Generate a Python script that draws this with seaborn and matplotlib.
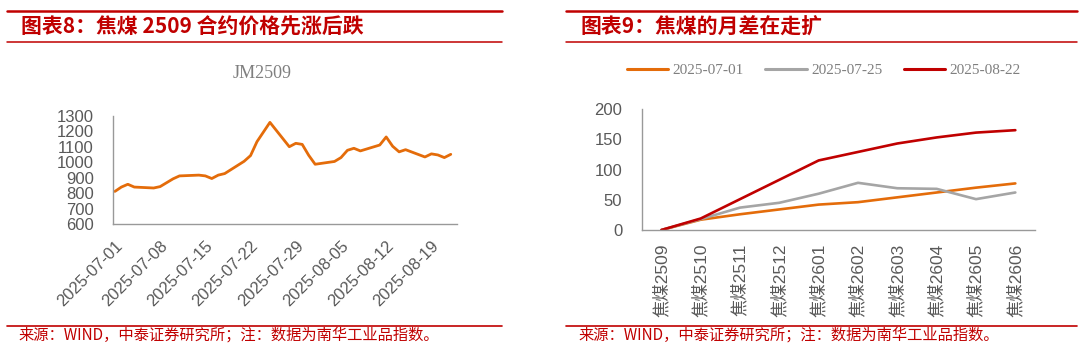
"""焦煤 2509 price path and the month spread curve, two panels side by side."""

import pandas as pd
import matplotlib.pyplot as plt
import matplotlib.dates as mdates
from matplotlib.lines import Line2D
from matplotlib.ticker import FixedLocator, NullFormatter
import seaborn as sns

# =============================================================================
# DATA
# =============================================================================

TRADE_DATES = [
    "2025-07-01", "2025-07-02", "2025-07-03", "2025-07-04",
    "2025-07-07", "2025-07-08", "2025-07-09", "2025-07-10", "2025-07-11",
    "2025-07-14", "2025-07-15", "2025-07-16", "2025-07-17", "2025-07-18",
    "2025-07-21", "2025-07-22", "2025-07-23", "2025-07-24", "2025-07-25",
    "2025-07-28", "2025-07-29", "2025-07-30", "2025-07-31", "2025-08-01",
    "2025-08-04", "2025-08-05", "2025-08-06", "2025-08-07", "2025-08-08",
    "2025-08-11", "2025-08-12", "2025-08-13", "2025-08-14", "2025-08-15",
    "2025-08-18", "2025-08-19", "2025-08-20", "2025-08-21", "2025-08-22",
]
JM2509_PRICE = [
    812, 840, 858, 840,
    834, 843, 868, 893, 912,
    917, 912, 895, 917, 927,
    1006, 1043, 1133, 1195, 1257,
    1100, 1122, 1115, 1045, 987,
    1005, 1030, 1077, 1090, 1073,
    1111, 1163, 1103, 1067, 1081,
    1034, 1054, 1047, 1030, 1051,
]
DATE_TICKS = [
    "2025-07-01", "2025-07-08", "2025-07-15", "2025-07-22",
    "2025-07-29", "2025-08-05", "2025-08-12", "2025-08-19",
]

CONTRACTS = [
    "焦煤2509", "焦煤2510", "焦煤2511", "焦煤2512", "焦煤2601",
    "焦煤2602", "焦煤2603", "焦煤2604", "焦煤2605", "焦煤2606",
]
SERIES_NAMES = ["2025-07-01", "2025-07-25", "2025-08-22"]
SPREAD_0701 = [0, 17, 26, 34, 42, 46, 54, 62, 70, 77]
SPREAD_0725 = [0, 18, 37, 45, 60, 78, 69, 68, 51, 62]
SPREAD_0822 = [0, 19, 51, 83, 115, 129, 143, 153, 161, 165]

# =============================================================================
# STYLE
# =============================================================================

RED = "#C00000"
ORANGE = "#E46C0A"
GREY_LINE = "#A5A5A5"
AXIS_GREY = "#999999"
TEXT_GREY = "#595959"
PALETTE = dict(zip(SERIES_NAMES, [ORANGE, GREY_LINE, RED]))

FIG_W, FIG_H = 1080, 351
SANS = ["Liberation Sans", "Noto Sans CJK SC", "DejaVu Sans"]
SERIF = ["Liberation Serif", "DejaVu Serif"]
CJK = ["Noto Sans CJK SC", "DejaVu Sans"]


def fx(px: float) -> float:
    return px / FIG_W


def fy(py: float) -> float:
    return 1 - py / FIG_H


def hline(fig, x0, x1, y, lw):
    fig.add_artist(Line2D([fx(x0), fx(x1)], [fy(y), fy(y)],
                          transform=fig.transFigure, color=RED, lw=lw))


def style_axes(ax):
    for side in ("top", "right"):
        ax.spines[side].set_visible(False)
    for side in ("left", "bottom"):
        ax.spines[side].set_color(AXIS_GREY)
        ax.spines[side].set_linewidth(1.0)
    ax.tick_params(axis="both", colors=AXIS_GREY, labelcolor=TEXT_GREY,
                   labelsize=12, direction="out", length=4, width=1.0)
    ax.tick_params(axis="y", pad=10)
    ax.grid(False)
    ax.set_xlabel("")
    ax.set_ylabel("")


def main() -> None:
    sns.set_theme(style="white")
    plt.rcParams["font.family"] = SANS

    fig = plt.figure(figsize=(FIG_W / 100, FIG_H / 100), dpi=100)

    # ---- banner lines and titles ----
    for x0, x1 in ((7, 502), (566, 1077)):
        hline(fig, x0, x1, 11.2, 1.8)
        hline(fig, x0, x1, 41.8, 1.1)
        hline(fig, x0, x1, 325.5, 1.2)
    fig.text(fx(21), fy(27), "图表8：焦煤 2509 合约价格先涨后跌", color=RED,
             fontsize=15, fontweight="bold", family=CJK, va="center")
    fig.text(fx(580), fy(27), "图表9：焦煤的月差在走扩", color=RED,
             fontsize=15, fontweight="bold", family=CJK, va="center")
    note = "来源：WIND，中泰证券研究所；注：数据为南华工业品指数。"
    for x in (18, 578):
        fig.text(fx(x), fy(335.5), note, color=RED, fontsize=11,
                 family=CJK, va="center")

    # ---- left: JM2509 price ----
    price_df = pd.DataFrame({"date": pd.to_datetime(TRADE_DATES),
                             "price": JM2509_PRICE})
    ax1 = fig.add_axes([fx(113.3), fy(224.3), fx(456.7 - 113.3),
                        (224.3 - 115.7) / FIG_H])
    sns.lineplot(data=price_df, x="date", y="price", color=ORANGE,
                 linewidth=2.0, ax=ax1)
    start = pd.Timestamp("2025-07-01")
    ax1.set_xlim(start - pd.Timedelta(hours=6),
                 pd.Timestamp("2025-08-22") + pd.Timedelta(hours=22))
    ax1.set_ylim(600, 1300)
    ax1.set_yticks(range(600, 1301, 100))
    ax1.set_xticks(pd.to_datetime(DATE_TICKS))
    ax1.xaxis.set_major_formatter(mdates.DateFormatter("%Y-%m-%d"))
    style_axes(ax1)
    ax1.tick_params(axis="x", length=5, pad=5)
    for lab in ax1.get_xticklabels():
        lab.set_rotation(45)
        lab.set_ha("right")
        lab.set_va("top")
        lab.set_rotation_mode("anchor")
    fig.text(fx(262), fy(74), "JM2509", color="#7F7F7F", fontsize=13,
             family=SERIF, ha="center", va="center")

    # ---- right: month spreads ----
    spread_df = pd.DataFrame({
        "contract": CONTRACTS * 3,
        "series": sum([[s] * len(CONTRACTS) for s in SERIES_NAMES], []),
        "spread": SPREAD_0701 + SPREAD_0725 + SPREAD_0822,
    })
    ax2 = fig.add_axes([fx(641.7), fy(230), fx(1035 - 641.7), 121 / FIG_H])
    sns.lineplot(data=spread_df, x="contract", y="spread", hue="series",
                 hue_order=SERIES_NAMES, palette=PALETTE, linewidth=1.9,
                 sort=False, ax=ax2)
    handles, labels = ax2.get_legend_handles_labels()
    ax2.get_legend().remove()
    ax2.set_xlim(-0.5, len(CONTRACTS) - 0.5)
    ax2.set_ylim(0, 200)
    ax2.set_yticks(range(0, 201, 50))
    style_axes(ax2)
    ax2.set_xticks(range(len(CONTRACTS)))
    ax2.set_xticklabels(CONTRACTS, rotation=90, fontsize=12.5)
    ax2.tick_params(axis="x", which="major", length=0, pad=10)
    ax2.xaxis.set_minor_locator(
        FixedLocator([i - 0.5 for i in range(len(CONTRACTS) + 1)]))
    ax2.xaxis.set_minor_formatter(NullFormatter())
    ax2.tick_params(axis="x", which="minor", length=5, width=1.0,
                    colors=AXIS_GREY, direction="out")

    leg = fig.legend(handles, labels, loc="center", ncol=3, frameon=False,
                     bbox_to_anchor=(fx(824), fy(70)), handlelength=2.7,
                     handletextpad=0.3, columnspacing=1.4,
                     prop={"family": SERIF, "size": 11})
    for txt in leg.get_texts():
        txt.set_color("#7F7F7F")
    for ln in leg.get_lines():
        ln.set_linewidth(2.2)

    fig.savefig("out.png", dpi=100)
    plt.close(fig)


if __name__ == "__main__":
    main()
